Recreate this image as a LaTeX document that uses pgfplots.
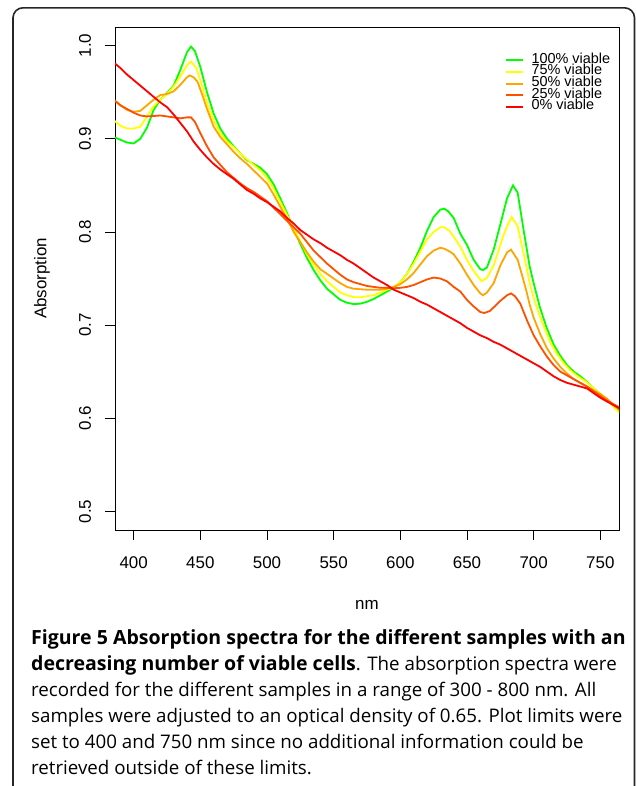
\documentclass[border=0pt]{standalone}
\usepackage{fontspec}
\setmainfont{Liberation Sans}
\newfontfamily\capfont{Open Sans}
\usepackage{pgfplots}
\pgfplotsset{compat=1.18}
\definecolor{cgreen}{RGB}{0,255,0}
\definecolor{cyellow}{RGB}{255,255,0}
\definecolor{corange}{RGB}{255,165,0}
\definecolor{cored}{RGB}{255,80,0}
\definecolor{cred}{RGB}{255,0,0}
\pgfplotstableread{
nm v
385 0.902
390 0.899
395 0.896
400 0.895
405 0.900
410 0.912
415 0.931
420 0.942
425 0.949
430 0.957
435 0.974
440 0.993
443 0.999
446 0.994
450 0.977
455 0.950
460 0.927
465 0.911
470 0.900
475 0.892
480 0.884
485 0.877
490 0.873
495 0.869
500 0.862
505 0.851
510 0.836
515 0.820
520 0.803
525 0.787
530 0.772
535 0.759
540 0.748
545 0.739
550 0.733
555 0.727
560 0.724
565 0.7225
570 0.723
575 0.725
580 0.728
585 0.732
590 0.736
595 0.740
600 0.746
605 0.755
610 0.768
615 0.783
620 0.801
625 0.816
630 0.824
633 0.825
636 0.822
640 0.815
645 0.798
650 0.786
655 0.770
660 0.760
662 0.759
665 0.762
670 0.781
675 0.808
680 0.836
684.5 0.850
688 0.842
692 0.806
697 0.763
700 0.745
704.5 0.720
709.5 0.698
715 0.679
720 0.667
725 0.657
730 0.650
735 0.645
740 0.639
745 0.632
750 0.626
755 0.619
760 0.613
765 0.607
}\green
\pgfplotstableread{
nm v
385 0.920
390 0.914
395 0.911
400 0.911
405 0.913
410 0.924
415 0.935
420 0.942
425 0.948
430 0.956
435 0.967
440 0.979
443 0.983
447 0.976
450 0.963
455 0.938
460 0.919
465 0.906
470 0.897
475 0.891
480 0.884
485 0.878
490 0.872
495 0.866
500 0.858
505 0.846
510 0.832
515 0.818
520 0.804
525 0.790
530 0.776
535 0.765
540 0.755
545 0.747
550 0.741
555 0.735
560 0.732
565 0.730
570 0.7298
575 0.731
580 0.732
585 0.735
590 0.738
595 0.741
600 0.746
605 0.755
610 0.766
615 0.779
620 0.792
625 0.800
630 0.805
633 0.805
637 0.801
640 0.795
645 0.784
650 0.770
655 0.758
661 0.747
665 0.751
670 0.764
677 0.795
680 0.806
683.5 0.816
688 0.806
693.5 0.770
697 0.745
700 0.729
704 0.712
708 0.697
712 0.683
717 0.670
722 0.660
727 0.652
733 0.645
739.5 0.639
745 0.632
750 0.626
755 0.620
760 0.612
765 0.605
}\yellow
\pgfplotstableread{
nm v
385 0.942
390 0.936
395 0.931
400 0.929
405 0.930
410 0.936
415 0.942
420 0.947
425 0.948
430 0.951
435 0.958
440 0.966
442 0.968
445 0.966
448 0.961
452 0.945
455 0.932
460 0.913
465 0.902
470 0.894
475 0.886
480 0.879
485 0.873
490 0.866
495 0.859
500 0.852
505 0.840
510 0.827
515 0.814
520 0.800
525 0.789
530 0.778
535 0.768
540 0.760
545 0.755
550 0.750
555 0.745
560 0.741
565 0.739
570 0.7385
575 0.738
580 0.738
585 0.738
590 0.739
595 0.741
600 0.744
605 0.749
610 0.756
615 0.765
620 0.774
625 0.780
630 0.783
633 0.782
637 0.779
640 0.776
645 0.766
650 0.754
655 0.743
660 0.734
662 0.732
665 0.735
670 0.745
675 0.764
680 0.778
683 0.781
688 0.770
692 0.750
695 0.734
697 0.722
700 0.708
705 0.690
710 0.675
715 0.664
720 0.655
725 0.648
730 0.642
735 0.638
740 0.634
745 0.630
750 0.626
755 0.621
760 0.614
765 0.608
}\orange
\pgfplotstableread{
nm v
385 0.942
390 0.936
395 0.932
400 0.928
405 0.925
410 0.924
415 0.9245
420 0.925
425 0.924
430 0.923
435 0.922
440 0.923
443 0.923
446 0.918
450 0.906
455 0.892
460 0.880
465 0.872
470 0.864
475 0.858
480 0.852
485 0.847
490 0.843
495 0.838
500 0.833
505 0.826
510 0.819
515 0.812
520 0.805
525 0.798
530 0.789
535 0.780
540 0.773
545 0.766
550 0.760
555 0.754
560 0.749
565 0.746
570 0.744
575 0.742
580 0.741
585 0.740
590 0.740
595 0.7395
600 0.740
605 0.741
610 0.743
615 0.746
620 0.749
625 0.751
630 0.750
635 0.747
640 0.741
645 0.736
650 0.727
655 0.720
660 0.714
663 0.713
667 0.715
670 0.719
675 0.726
680 0.732
683 0.734
686 0.731
690 0.723
695 0.705
700 0.689
705 0.677
710 0.666
715 0.657
720 0.650
725 0.646
730 0.642
735 0.638
740 0.634
745 0.629
750 0.624
755 0.619
760 0.615
765 0.611
}\ored
\pgfplotstableread{
nm v
385 0.982
390 0.976
395 0.969
400 0.963
405 0.957
410 0.951
415 0.945
420 0.939
425 0.934
430 0.926
435 0.917
440 0.908
445 0.897
450 0.888
455 0.880
460 0.873
465 0.867
470 0.862
475 0.857
480 0.851
485 0.845
490 0.841
495 0.836
500 0.832
505 0.827
510 0.822
515 0.815
520 0.809
525 0.802
530 0.797
535 0.792
540 0.788
545 0.783
550 0.779
555 0.775
560 0.770
565 0.766
570 0.761
575 0.756
580 0.751
585 0.747
590 0.743
595 0.738
600 0.735
605 0.732
610 0.729
615 0.725
620 0.722
625 0.718
630 0.714
635 0.710
640 0.706
645 0.702
650 0.697
655 0.693
660 0.689
665 0.686
670 0.682
675 0.679
680 0.675
685 0.671
690 0.667
695 0.663
700 0.659
705 0.655
710 0.650
715 0.645
720 0.641
725 0.638
730 0.636
735 0.634
740 0.632
745 0.627
750 0.622
755 0.618
760 0.614
765 0.610
}\red
\begin{document}
\begin{tikzpicture}
\path[use as bounding box] (0bp,0bp) rectangle (637bp,-786bp);
\draw[line width=1.6bp, black!85, rounded corners=10bp] (13bp,-800bp) -- (13bp,-7.8bp) -- (634.5bp,-7.8bp) -- (634.5bp,-800bp);
\begin{axis}[
  at={(115bp,-530bp)}, anchor=south west,
  scale only axis, width=504bp, height=503bp,
  xmin=386, xmax=764, ymin=0.48, ymax=1.02,
  xtick={400,450,...,750},
  ytick={0.5,0.6,0.7,0.8,0.9,1.0},
  yticklabels={0.5,0.6,0.7,0.8,0.9,1.0},
  xtick pos=left, ytick pos=left,
  tick align=outside, major tick length=10bp,
  tick style={black, line width=0.8bp},
  axis line style={line width=0.9bp},
  /pgf/number format/assume math mode=true,
  tick label style={font=\fontsize{17}{17}\selectfont},
  xticklabel style={anchor=center, yshift=-23bp},
  yticklabel style={anchor=center, xshift=-20bp, rotate=90},
  xlabel={nm}, ylabel={Absorption},
  every axis x label/.style={at={(axis description cs:0.5,0)}, anchor=center, yshift=-75bp, font=\fontsize{17}{17}\selectfont},
  every axis y label/.style={at={(axis description cs:0,0.5)}, anchor=center, xshift=-73bp, rotate=90, font=\fontsize{17}{17}\selectfont},
  legend cell align=left,
  legend style={at={(axis description cs:0.767,0.95)}, anchor=north west, draw=none, fill=none,
    font=\fontsize{14.5}{14.5}\selectfont, row sep=0bp, column sep=0bp,
    nodes={inner sep=0pt, text height=8.7bp, text depth=3bp}},
  legend image code/.code={\draw[#1] (0bp,0bp) -- (17bp,0bp);},
  every axis plot/.append style={line width=1.8bp},
]
\addplot[cgreen] table[x=nm,y=v]{\green};
\addlegendentry{\hspace{8bp}100\% viable}
\addplot[cyellow] table[x=nm,y=v]{\yellow};
\addlegendentry{\hspace{8bp}75\% viable}
\addplot[corange] table[x=nm,y=v]{\orange};
\addlegendentry{\hspace{8bp}50\% viable}
\addplot[cored] table[x=nm,y=v]{\ored};
\addlegendentry{\hspace{8bp}25\% viable}
\addplot[cred] table[x=nm,y=v]{\red};
\addlegendentry{\hspace{8bp}0\% viable}
\end{axis}
\begin{scope}[every node/.style={anchor=base west, inner sep=0pt}]
\capfont\fontsize{18.8}{20}\selectfont
\node at (31bp,-644bp) {\fontsize{19.6}{20}\selectfont\bfseries Figure 5 Absorption spectra for the different samples with an};
\node at (31bp,-670bp) {{\fontsize{19.6}{20}\selectfont\bfseries decreasing number of viable cells}. The absorption spectra were};
\node at (31bp,-696bp) {recorded for the different samples in a range of 300 - 800 nm. All};
\node at (31bp,-722bp) {samples were adjusted to an optical density of 0.65. Plot limits were};
\node at (31bp,-748bp) {set to 400 and 750 nm since no additional information could be};
\node at (31bp,-774bp) {retrieved outside of these limits.};
\end{scope}
\end{tikzpicture}
\end{document}
